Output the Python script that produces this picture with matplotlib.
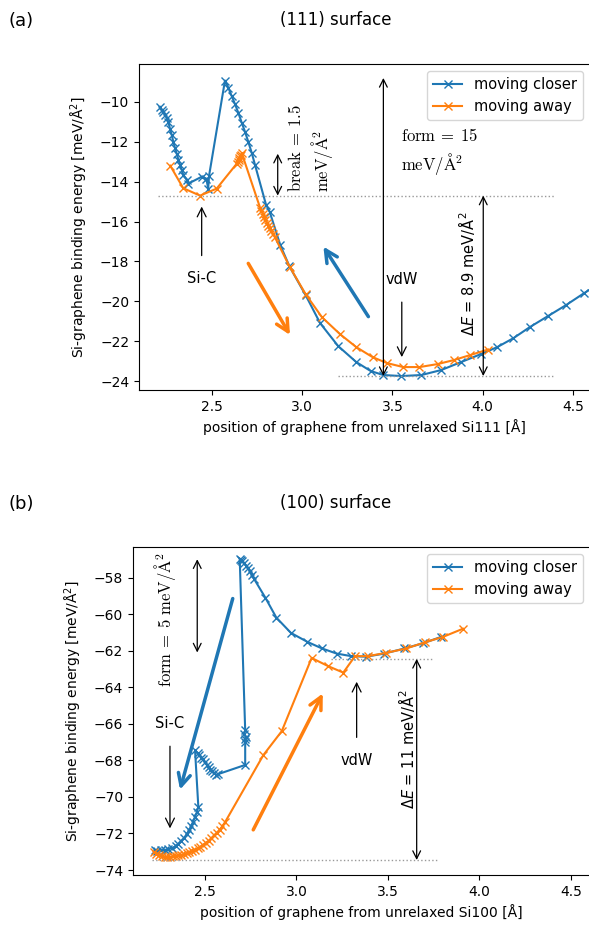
import matplotlib
matplotlib.use("Agg")
import matplotlib.pyplot as plt
from matplotlib.ticker import MultipleLocator

plt.rcParams['font.family'] = ['DejaVu Sans']
plt.rcParams['font.size'] = 10

# ---- (a) (111) surface ----
closer111_x = [4.65, 4.56, 4.46, 4.36, 4.26, 4.17, 4.08, 3.99, 3.88, 3.77, 3.66, 3.55, 3.45,
               3.38, 3.30, 3.20, 3.10, 3.02, 2.93, 2.88, 2.82, 2.80, 2.739, 2.721, 2.702, 2.684,
               2.666, 2.647, 2.628, 2.61, 2.592, 2.573,
               2.485, 2.48, 2.47, 2.445, 2.37, 2.361, 2.342, 2.333, 2.324, 2.315, 2.306, 2.296,
               2.287, 2.278, 2.269, 2.259, 2.25, 2.241, 2.232, 2.222, 2.213]
closer111_y = [-19.1, -19.6, -20.2, -20.75, -21.3, -21.85, -22.3, -22.65, -23.05, -23.45, -23.7,
               -23.75, -23.7, -23.5, -23.05, -22.25, -21.1, -19.7, -18.25, -17.2, -15.5, -15.15,
               -13.15, -12.55, -12.0, -11.5, -11.05, -10.55, -10.1, -9.7, -9.3, -8.93,
               -13.7, -14.35, -13.85, -13.75, -14.1, -13.9, -13.65, -13.4, -13.15, -12.9, -12.6,
               -12.3, -12.0, -11.65, -11.35, -11.0, -10.8, -10.65, -10.5, -10.4, -10.25]

away111_x = [2.27, 2.342, 2.435, 2.527, 2.638, 2.643, 2.648, 2.652, 2.657, 2.661, 2.666,
             2.767, 2.775, 2.783, 2.79, 2.797, 2.805, 2.812, 2.82, 2.83, 2.84, 2.85,
             2.933, 3.02, 3.11, 3.21, 3.30, 3.39, 3.47, 3.56, 3.65, 3.75, 3.84, 3.93, 4.03]
away111_y = [-13.2, -14.33, -14.7, -14.35, -13.1, -13.0, -12.9, -12.8, -12.72, -12.65, -12.57,
             -15.3, -15.45, -15.6, -15.75, -15.9, -16.05, -16.2, -16.35, -16.5, -16.65, -16.8,
             -18.3, -19.65, -20.8, -21.65, -22.3, -22.8, -23.1, -23.3, -23.3, -23.15, -22.95,
             -22.7, -22.42]

# ---- (b) (100) surface ----
closer100_x = [3.79, 3.69, 3.59, 3.48, 3.38, 3.30, 3.22, 3.14, 3.06, 2.97, 2.89, 2.83,
               2.77, 2.755, 2.745, 2.735, 2.725, 2.715, 2.705, 2.695, 2.69,
               2.72, 2.715, 2.722, 2.718, 2.72, 2.72,
               2.573, 2.562, 2.551, 2.54, 2.53, 2.52, 2.51, 2.50, 2.49, 2.48, 2.47, 2.46, 2.446,
               2.464, 2.455, 2.445, 2.435, 2.425, 2.415, 2.40, 2.385, 2.37, 2.355, 2.34, 2.32,
               2.30, 2.28, 2.26, 2.24, 2.225]
closer100_y = [-61.25, -61.6, -61.88, -62.16, -62.33, -62.3, -62.16, -61.88, -61.52, -61.03,
               -60.19, -59.1, -58.1, -57.85, -57.65, -57.5, -57.35, -57.2, -57.1, -57.02, -56.96,
               -66.35, -66.55, -66.7, -66.85, -67.0, -68.25,
               -68.75, -68.8, -68.7, -68.6, -68.5, -68.35, -68.25, -68.1, -67.95, -67.85, -67.7,
               -67.6, -67.45,
               -70.55, -70.85, -71.1, -71.35, -71.6, -71.8, -72.05, -72.25, -72.4, -72.55,
               -72.7, -72.8, -72.85, -72.9, -72.9, -72.95, -72.9]

away100_x = [2.22, 2.235, 2.25, 2.265, 2.28, 2.295, 2.31, 2.325, 2.34, 2.355, 2.37, 2.385,
             2.40, 2.415, 2.43, 2.445, 2.46, 2.475, 2.49, 2.505, 2.52, 2.535, 2.55, 2.565,
             2.58, 2.595, 2.61, 2.82, 2.92, 3.083, 3.174, 3.256, 3.32, 3.39, 3.49, 3.60,
             3.70, 3.80, 3.91]
away100_y = [-73.0, -73.1, -73.2, -73.25, -73.3, -73.3, -73.28, -73.25, -73.22, -73.2,
             -73.18, -73.12, -73.08, -73.02, -72.95, -72.9, -72.82, -72.72, -72.62, -72.5,
             -72.4, -72.25, -72.1, -71.95, -71.8, -71.6, -71.38, -67.7, -66.4, -62.4, -62.85,
             -63.2, -62.3, -62.3, -62.12, -61.88, -61.55, -61.25, -60.8]

fig = plt.figure(figsize=(5.89, 9.26), dpi=100)
ax1 = fig.add_axes([139 / 589, 1 - 390 / 926, 451 / 589, 326 / 926])
ax2 = fig.add_axes([133 / 589, 1 - 875 / 926, 457 / 589, 328 / 926])

fig.text(8 / 589, 1 - 21 / 926, "(a)", fontsize=13, va="center", ha="left")
fig.text(336 / 589, 1 - 20 / 926, "(111) surface", fontsize=12, va="center", ha="center")
fig.text(8 / 589, 1 - 504 / 926, "(b)", fontsize=13, va="center", ha="left")
fig.text(336 / 589, 1 - 503 / 926, "(100) surface", fontsize=12, va="center", ha="center")

dbl = dict(arrowstyle="<->", color="k", lw=0.9, shrinkA=0, shrinkB=0, mutation_scale=14)
one = dict(arrowstyle="->", color="k", lw=0.9, shrinkA=0, shrinkB=0, mutation_scale=16)
dots = dict(ls=":", color="#999999", lw=1.0)

# top panel
ax1.plot(closer111_x, closer111_y, "x-", color="C0", label="moving closer")
ax1.plot(away111_x, away111_y, "x-", color="C1", label="moving away")
ax1.plot([2.2, 4.4], [-14.7, -14.7], **dots)
ax1.plot([3.2, 4.4], [-23.75, -23.75], **dots)

ax1.annotate("", xy=(2.865, -12.6), xytext=(2.865, -14.7), arrowprops=dbl)
ax1.text(3.05, -12.3, r"$\mathrm{break}\:=\:1.5$" + "\n" + r"$\mathrm{meV/\AA^2}$",
         rotation=90, ha="center", va="center", multialignment="left",
         fontsize=12, math_fontfamily="cm")
ax1.annotate("", xy=(3.45, -8.8), xytext=(3.45, -23.75), arrowprops=dbl)
ax1.text(3.55, -12.5, r"$\mathrm{form}\:=\:15$" + "\n" + r"$\mathrm{meV/\AA^2}$",
         ha="left", va="center", fontsize=12, math_fontfamily="cm", linespacing=1.3)
ax1.annotate("", xy=(4.003, -14.7), xytext=(4.003, -23.75), arrowprops=dbl)
ax1.text(3.91, -18.6, r"$\Delta E$ = 8.9 meV/Å$^2$", rotation=90, ha="center", va="center",
         fontsize=10.5)
ax1.annotate("vdW", xy=(3.552, -22.8), xytext=(3.552, -18.9), ha="center", va="center",
             fontsize=10.5, arrowprops=dict(one, shrinkA=9))
ax1.annotate("Si-C", xy=(2.444, -15.25), xytext=(2.444, -18.85), ha="center", va="center",
             fontsize=10.5, arrowprops=dict(one, shrinkA=9))
ax1.annotate("", xy=(3.118, -17.26), xytext=(3.367, -20.77),
             arrowprops=dict(arrowstyle="->", color="C0", lw=2.5, mutation_scale=22,
                             shrinkA=0, shrinkB=0))
ax1.annotate("", xy=(2.933, -21.69), xytext=(2.702, -18.1),
             arrowprops=dict(arrowstyle="->", color="C1", lw=2.5, mutation_scale=22,
                             shrinkA=0, shrinkB=0))

ax1.set_xlim(2.097, 4.594)
ax1.set_ylim(-24.45, -8.1)
ax1.xaxis.set_major_locator(MultipleLocator(0.5))
ax1.yaxis.set_major_locator(MultipleLocator(2))
ax1.set_xlabel("position of graphene from unrelaxed Si111 [Å]")
ax1.set_ylabel("Si-graphene binding energy [meV/Å$^2$]", labelpad=7)
ax1.legend(loc="upper right", fontsize=10.5)

# bottom panel
ax2.plot(closer100_x, closer100_y, "x-", color="C0", label="moving closer")
ax2.plot(away100_x, away100_y, "x-", color="C1", label="moving away")
ax2.plot([3.19, 3.74], [-62.45, -62.45], **dots)
ax2.plot([2.21, 3.77], [-73.45, -73.45], **dots)

ax2.annotate("", xy=(2.458, -57.0), xytext=(2.458, -62.1), arrowprops=dbl)
ax2.text(2.282, -60.3, r"$\mathrm{form}\:=\:5\ \mathrm{meV/\AA^2}$", rotation=90,
         ha="center", va="center", fontsize=12, math_fontfamily="cm")
ax2.annotate("Si-C", xy=(2.309, -71.72), xytext=(2.309, -65.98), ha="center", va="center",
             fontsize=10.5, arrowprops=dict(one, shrinkA=9))
ax2.annotate("vdW", xy=(3.329, -63.7), xytext=(3.329, -67.99), ha="center", va="center",
             fontsize=10.5, arrowprops=dict(one, shrinkA=9))
ax2.annotate("", xy=(3.657, -62.45), xytext=(3.657, -73.45), arrowprops=dbl)
ax2.text(3.603, -67.4, r"$\Delta E$ = 11 meV/Å$^2$", rotation=90, ha="center", va="center",
         fontsize=10.5)
ax2.annotate("", xy=(2.364, -69.6), xytext=(2.652, -59.15),
             arrowprops=dict(arrowstyle="->", color="C0", lw=2.5, mutation_scale=22,
                             shrinkA=0, shrinkB=0))
ax2.annotate("", xy=(3.144, -64.34), xytext=(2.764, -71.8),
             arrowprops=dict(arrowstyle="->", color="C1", lw=2.5, mutation_scale=22,
                             shrinkA=0, shrinkB=0))

ax2.set_xlim(2.107, 4.604)
ax2.set_ylim(-74.27, -56.33)
ax2.xaxis.set_major_locator(MultipleLocator(0.5))
ax2.yaxis.set_major_locator(MultipleLocator(2))
ax2.set_xlabel("position of graphene from unrelaxed Si100 [Å]")
ax2.set_ylabel("Si-graphene binding energy [meV/Å$^2$]", labelpad=7)
ax2.legend(loc="upper right", fontsize=10.5)

fig.savefig("out.png", dpi=100)
